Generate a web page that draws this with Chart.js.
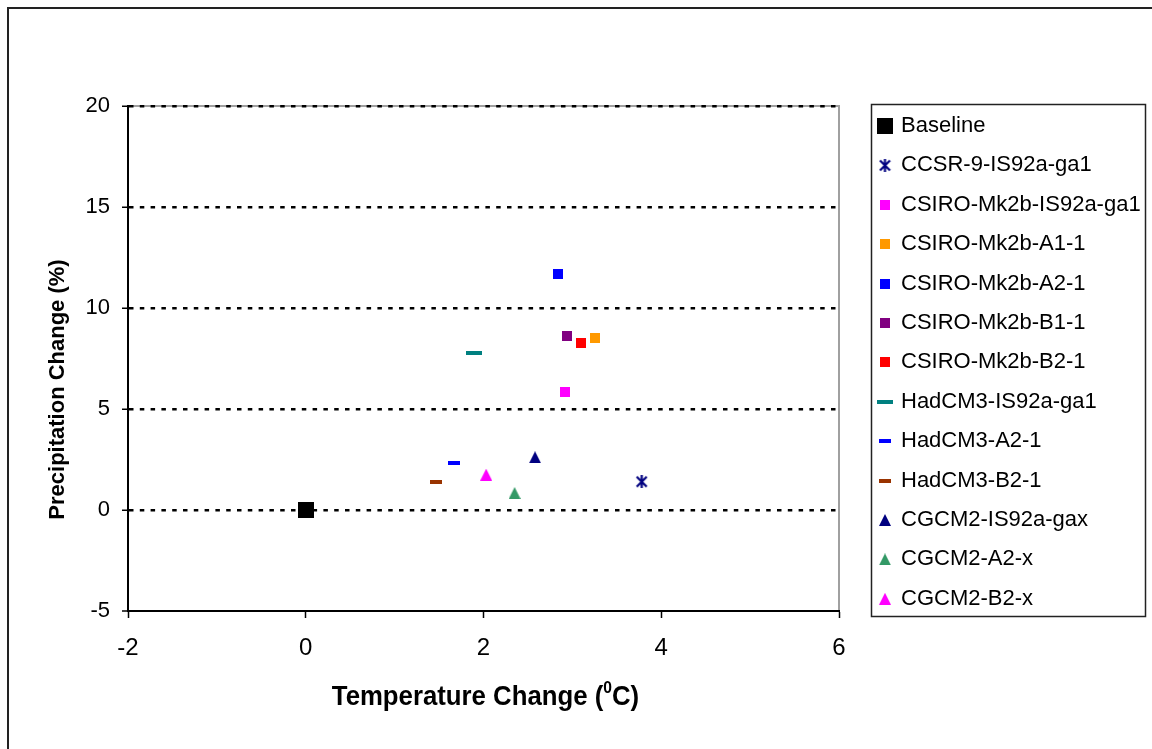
<!DOCTYPE html>
<html lang="en">
  <head>
    <meta charset="UTF-8" />
    <title>Temperature vs precipitation change</title>
    <style>
      html,
      body {
        margin: 0;
        padding: 0;
        background: #fff;
        overflow: hidden;
      }
      #frame {
        position: absolute;
        left: 7px;
        top: 7px;
        width: 1200px;
        height: 800px;
        border-top: 2px solid #222;
        border-left: 2px solid #222;
      }
      #myChart {
        position: absolute;
        left: 0;
        top: 0;
      }
    </style>
    <script src="https://cdn.jsdelivr.net/npm/chart.js@4"></script>
  </head>
  <body>
    <div id="frame"></div>
    <canvas id="myChart" width="1152" height="749"></canvas>
    <script>
      // values (deg C, %)
      const seriesNames = [
        "Baseline",
        "CCSR-9-IS92a-ga1",
        "CSIRO-Mk2b-IS92a-ga1",
        "CSIRO-Mk2b-A1-1",
        "CSIRO-Mk2b-A2-1",
        "CSIRO-Mk2b-B1-1",
        "CSIRO-Mk2b-B2-1",
        "HadCM3-IS92a-ga1",
        "HadCM3-A2-1",
        "HadCM3-B2-1",
        "CGCM2-IS92a-gax",
        "CGCM2-A2-x",
        "CGCM2-B2-x",
      ];
      const tempChange = [0, 3.78, 2.92, 3.25, 2.84, 2.94, 3.1, 1.89, 1.67, 1.47, 2.58, 2.35, 2.03];
      const precipChange = [0, 1.4, 5.84, 8.51, 11.67, 8.61, 8.25, 7.79, 2.31, 1.39, 2.61, 0.84, 1.75];

      const xTicks = { min: -2, max: 6, step: 2 };
      const yTicks = { min: -5, max: 20, step: 5 };

      const markerColors = [
        "#000000", "#000080", "#FF00FF", "#FF9900", "#0000FF", "#800080", "#FF0000",
        "#008080", "#0000FF", "#993300", "#000080", "#339966", "#FF00FF",
      ];
      const markerShapes = [
        "big", "star", "square", "square", "square", "square", "square",
        "longdash", "dash", "dash", "triangle", "triangle", "triangle",
      ];

      const Y_TITLE = "Precipitation Change (%)";
      const X_TITLE = ["Temperature Change (", "0", "C)"];

      const SANS = "'Liberation Sans', Arial, sans-serif";
      const LEGEND_WIDTH = 313;

      function makeMarker(shape, color) {
        const size = {
          big: [16, 16],
          square: [10, 10],
          dash: [12, 4],
          longdash: [16, 4],
          triangle: [12, 12],
          star: [13, 13],
        }[shape];
        const w = size[0], h = size[1];
        const c = document.createElement("canvas");
        c.width = w;
        c.height = h;
        const g = c.getContext("2d");
        g.fillStyle = color;
        g.strokeStyle = color;
        if (shape === "triangle") {
          g.beginPath();
          g.moveTo(0, h);
          g.lineTo(w / 2, 0);
          g.lineTo(w, h);
          g.closePath();
          g.fill();
        } else if (shape === "star") {
          g.lineWidth = 2.2;
          g.beginPath();
          g.moveTo(w / 2, 0);
          g.lineTo(w / 2, h);
          g.moveTo(1.5, 1.5);
          g.lineTo(w - 1.5, h - 1.5);
          g.moveTo(w - 1.5, 1.5);
          g.lineTo(1.5, h - 1.5);
          g.stroke();
        } else {
          g.fillRect(0, 0, w, h);
        }
        return c;
      }

      const datasets = seriesNames.map((name, i) => ({
        label: name,
        data: [{ x: tempChange[i], y: precipChange[i] }],
        pointStyle: makeMarker(markerShapes[i], markerColors[i]),
        pointRadius: 6,
        pointHoverRadius: 6,
        backgroundColor: markerColors[i],
        borderColor: markerColors[i],
      }));

      // excel-ish frame, legend box and the two axis titles
      const excelLook = {
        id: "excelLook",
        beforeLayout(chart) {
          const lg = chart.legend;
          if (lg && !lg._fixedWidth) {
            const fit = lg.fit;
            lg.fit = function () {
              fit.call(this);
              this.width = LEGEND_WIDTH;
            };
            lg._fixedWidth = true;
          }
        },
        afterLayout(chart) {
          const lg = chart.legend;
          const a = chart.chartArea;
          const p = lg.options.labels.padding;
          lg.left = a.right + 41 - p;
          lg.top = a.top + 9 - p;
        },
        beforeDraw(chart) {
          const { ctx, chartArea: a } = chart;
          ctx.save();
          ctx.strokeStyle = "#a0a0a0";
          ctx.lineWidth = 2;
          ctx.beginPath();
          ctx.moveTo(a.left, a.top);
          ctx.lineTo(a.right, a.top);
          ctx.lineTo(a.right, a.bottom);
          ctx.stroke();
          ctx.restore();
        },
        afterDraw(chart) {
          const { ctx, chartArea: a } = chart;
          ctx.save();
          // legend border
          ctx.strokeStyle = "#222";
          ctx.lineWidth = 1.5;
          ctx.strokeRect(a.right + 32.5, a.top - 1.5, 274, 512);

          ctx.fillStyle = "#000";
          ctx.textBaseline = "middle";

          // y title
          ctx.save();
          ctx.font = "bold 22px " + SANS;
          ctx.textAlign = "center";
          ctx.translate(a.left - 70, (a.top + a.bottom) / 2 + 31);
          ctx.rotate(-Math.PI / 2);
          ctx.fillText(Y_TITLE, 0, 0);
          ctx.restore();

          // x title with superscript 0, squeezed a bit like a narrow face
          const big = "bold 28px " + SANS;
          const small = "bold 17px " + SANS;
          const squeeze = 0.92;
          ctx.textAlign = "left";
          ctx.font = big;
          const w0 = ctx.measureText(X_TITLE[0]).width;
          const w2 = ctx.measureText(X_TITLE[2]).width;
          ctx.font = small;
          const w1 = ctx.measureText(X_TITLE[1]).width;
          const total = (w0 + w1 + w2) * squeeze;
          ctx.translate((a.left + a.right) / 2 + 2 - total / 2, a.bottom + 86);
          ctx.scale(squeeze, 1);
          let x = 0;
          ctx.font = big;
          ctx.fillText(X_TITLE[0], x, 0);
          x += w0;
          ctx.font = small;
          ctx.fillText(X_TITLE[1], x, -9);
          x += w1;
          ctx.font = big;
          ctx.fillText(X_TITLE[2], x, 0);
          ctx.restore();
        },
      };

      new Chart(document.getElementById("myChart"), {
        type: "scatter",
        data: { datasets: datasets },
        options: {
          responsive: false,
          animation: false,
          layout: { padding: { top: 106, right: 0, bottom: 0, left: 0 } },
          scales: {
            x: {
              type: "linear",
              min: xTicks.min,
              max: xTicks.max,
              ticks: {
                stepSize: xTicks.step,
                color: "#000",
                padding: 16,
                font: { family: SANS, size: 24 },
              },
              grid: {
                drawOnChartArea: false,
                tickLength: 7,
                tickColor: "#000",
                tickWidth: 1.5,
              },
              border: { color: "#000", width: 2 },
              afterFit: (scale) => {
                scale.height = 138;
              },
            },
            y: {
              min: yTicks.min,
              max: yTicks.max,
              ticks: {
                stepSize: yTicks.step,
                color: "#000",
                padding: 12,
                font: { family: SANS, size: 22 },
              },
              grid: {
                color: "#000",
                // no dotted line on top of the solid x axis
                lineWidth: (c) => (c.tick && c.tick.value === yTicks.min ? 0 : 2.5),
                tickLength: 6,
                tickColor: "#000",
                tickWidth: 1.5,
              },
              border: { color: "#000", width: 2, dash: [4.5, 6.3] },
              afterFit: (scale) => {
                scale.width = 128;
              },
            },
          },
          plugins: {
            tooltip: { enabled: false },
            legend: {
              position: "right",
              align: "start",
              labels: {
                usePointStyle: true,
                boxWidth: 10,
                boxHeight: 10,
                padding: 17.4,
                color: "#000",
                font: { family: SANS, size: 22 },
              },
            },
          },
        },
        plugins: [excelLook],
      });
    </script>
  </body>
</html>
